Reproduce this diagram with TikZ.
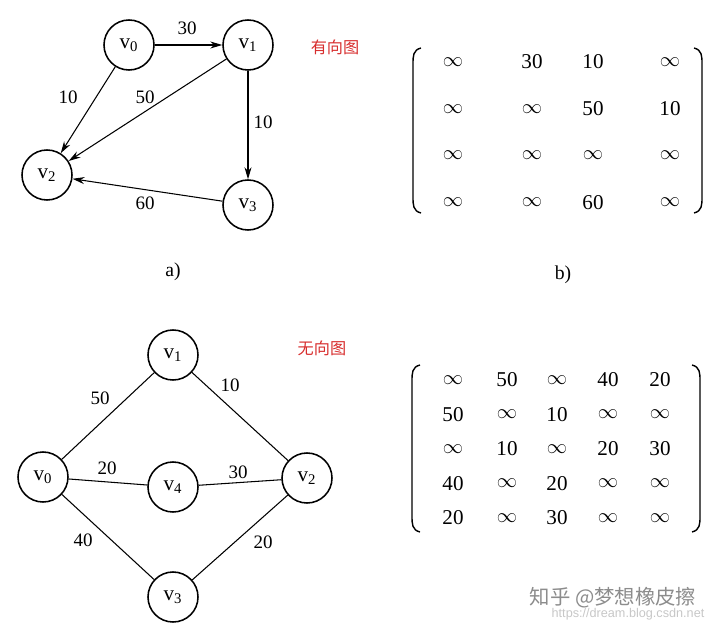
\documentclass[tikz,border=0pt]{standalone}
\usepackage{fontspec}
\setmainfont{Liberation Serif}
\setsansfont{Liberation Sans}
\newfontfamily\cjkfont{Noto Sans CJK SC}
\usetikzlibrary{arrows.meta}
\definecolor{notered}{RGB}{215,45,45}
\newcommand{\infsym}{$\infty$}
\tikzset{bracket/.style={line width=1pt}}

\begin{document}
\begin{tikzpicture}[
  x=0.025cm, y=-0.025cm,
  >={Stealth[length=8.5pt,width=5pt]},
  line width=0.75pt,
  vertex/.style={circle, draw=black, line width=1.1pt, minimum size=1.25cm, inner sep=0pt,
                 font=\fontsize{15}{17}\selectfont},
  wlabel/.style={inner sep=1pt, font=\fontsize{13.5}{15}\selectfont},
  entry/.style={inner sep=0pt, font=\fontsize{15}{17}\selectfont},
  tag/.style={text=notered, font=\cjkfont\fontsize{11.5}{13}\selectfont},
  caption/.style={font=\fontsize{14}{16}\selectfont}
]
  \useasboundingbox (0,0) rectangle (720,628);

  % directed graph
  \node[vertex] (a0) at (129,45) {v\textsubscript{0}};
  \node[vertex] (a1) at (248,45) {v\textsubscript{1}};
  \node[vertex] (a2) at (47,175) {v\textsubscript{2}};
  \node[vertex] (a3) at (248,205) {v\textsubscript{3}};

  \draw[->] (a0) -- (a1);
  \draw[->] (a0) -- (a2);
  \draw[->] (a1) -- (a2);
  \draw[->] (a1) -- (a3);
  \draw[->] (a3) -- (a2);

  \node[wlabel] (l01) at (187,28) {30};
  \node[wlabel] (l02) at (68,97) {10};
  \node[wlabel] (l12) at (145,97) {50};
  \node[wlabel] (l13) at (263,122) {10};
  \node[wlabel] (l32) at (145,203) {60};

  \node[tag] (tagA) at (335,47) {有向图};
  \node[caption] (capA) at (173,272) {a)};

  % matrix b)
  \draw[bracket] (421,48) .. controls (413,50) and (413,56) .. (413,64) -- (413,197)
    .. controls (413,205) and (413,211) .. (421,213);
  \draw[bracket] (694,48) .. controls (702,50) and (702,56) .. (702,64) -- (702,197)
    .. controls (702,205) and (702,211) .. (694,213);
  \foreach \row [count=\r from 0] in {{\infsym,30,10,\infsym},{\infsym,\infsym,50,10},
      {\infsym,\infsym,\infsym,\infsym},{\infsym,\infsym,60,\infsym}} {
    \foreach \val [count=\c from 0] in \row {
      \pgfmathsetmacro{\xx}{{453,532,593,670}[\c]}
      \pgfmathsetmacro{\yy}{62 + 46.7*\r}
      \node[entry] (b\r\c) at (\xx,\yy) {\val};
    }
  }
  \node[caption] (capB) at (563,275) {b)};

  % undirected graph
  \node[vertex] (u1) at (173,355) {v\textsubscript{1}};
  \node[vertex] (u0) at (43,477) {v\textsubscript{0}};
  \node[vertex] (u4) at (173,487) {v\textsubscript{4}};
  \node[vertex] (u2) at (307,478) {v\textsubscript{2}};
  \node[vertex] (u3) at (173,597) {v\textsubscript{3}};

  \draw (u0) -- (u1);
  \draw (u1) -- (u2);
  \draw (u0) -- (u4);
  \draw (u4) -- (u2);
  \draw (u0) -- (u3);
  \draw (u3) -- (u2);

  \node[wlabel] (m01) at (100,398) {50};
  \node[wlabel] (m12) at (230,385) {10};
  \node[wlabel] (m04) at (107,468) {20};
  \node[wlabel] (m42) at (238,472) {30};
  \node[wlabel] (m03) at (83,540) {40};
  \node[wlabel] (m32) at (263,542) {20};

  \node[tag] (tagB) at (322,348) {无向图};

  % matrix of the undirected graph
  \draw[bracket] (420,365) .. controls (412,367) and (412,373) .. (412,381) -- (412,516)
    .. controls (412,524) and (412,530) .. (420,532);
  \draw[bracket] (692,365) .. controls (700,367) and (700,373) .. (700,381) -- (700,516)
    .. controls (700,524) and (700,530) .. (692,532);
  \foreach \row [count=\r from 0] in {{\infsym,50,\infsym,40,20},{50,\infsym,10,\infsym,\infsym},
      {\infsym,10,\infsym,20,30},{40,\infsym,20,\infsym,\infsym},{20,\infsym,30,\infsym,\infsym}} {
    \foreach \val [count=\c from 0] in \row {
      \pgfmathsetmacro{\xx}{{453,507,557,608,660}[\c]}
      \pgfmathsetmacro{\yy}{380 + 34.5*\r}
      \node[entry] (c\r\c) at (\xx,\yy) {\val};
    }
  }

  \node[text=black!45, font=\cjkfont\fontsize{14.5}{16}\selectfont] (mark) at (613,598) {知乎 @梦想橡皮擦};
  \node[text=black!22, font=\sffamily\fontsize{9}{10}\selectfont] (url) at (628,614) {https://dream.blog.csdn.net};
\end{tikzpicture}
\end{document}
